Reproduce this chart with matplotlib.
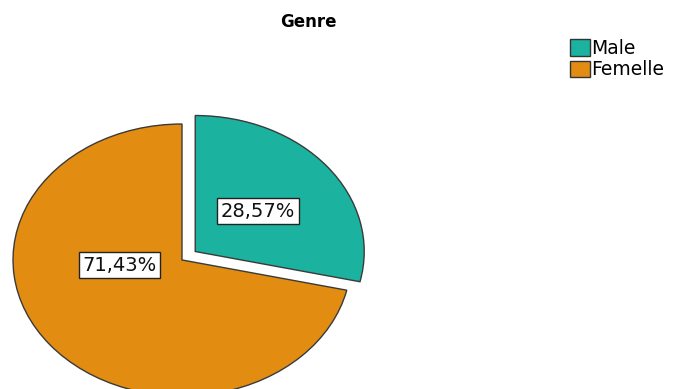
import matplotlib
matplotlib.use("Agg")
import matplotlib.pyplot as plt
from matplotlib.patches import Patch

title = "Genre"
categories = ["Male", "Femelle"]
percents = [28.57, 71.43]
colors = ["#1bb3a0", "#e28d12"]
explode = [0.1, 0.0]

plt.rcParams['font.family'] = ['DejaVu Sans']

fig = plt.figure(figsize=(6.77, 3.89), dpi=100)
ax = fig.add_axes([0, 0, 1, 1])

wedges, texts, autotexts = ax.pie(
    percents, colors=colors, explode=explode, startangle=90, counterclock=False,
    radius=1.0, center=(0, 0),
    autopct=lambda p: f"{p:.2f}%".replace('.', ','), pctdistance=0.5,
    wedgeprops=dict(edgecolor="#3a3a3a", linewidth=1.0),
    textprops=dict(fontsize=14, color="#111111"),
)
for t in autotexts:
    t.set_bbox(dict(facecolor="white", edgecolor="#222222", linewidth=1.0, pad=2.5))
# SPSS places the larger slice label nearer the centre line
autotexts[0].set_position((0.45, 0.36))
autotexts[1].set_position((-0.37, -0.04))

ax.set_aspect('auto')
ax.set_xlim(-1.077, 2.929)
ax.set_ylim(-0.949, 1.912)
ax.axis('off')

fig.text(0.455, 0.943, title, ha='center', va='center', fontsize=12, fontweight='bold')

handles = [Patch(facecolor=c, edgecolor="#333333", linewidth=1.0, label=l) for c, l in zip(colors, categories)]
fig.legend(handles=handles, loc='upper left', bbox_to_anchor=(0.842, 0.90), frameon=False,
           fontsize=13.5, handlelength=1.05, handleheight=0.95, handletextpad=0.1,
           labelspacing=0.12, borderaxespad=0, borderpad=0)

fig.savefig("out.png", dpi=100)
